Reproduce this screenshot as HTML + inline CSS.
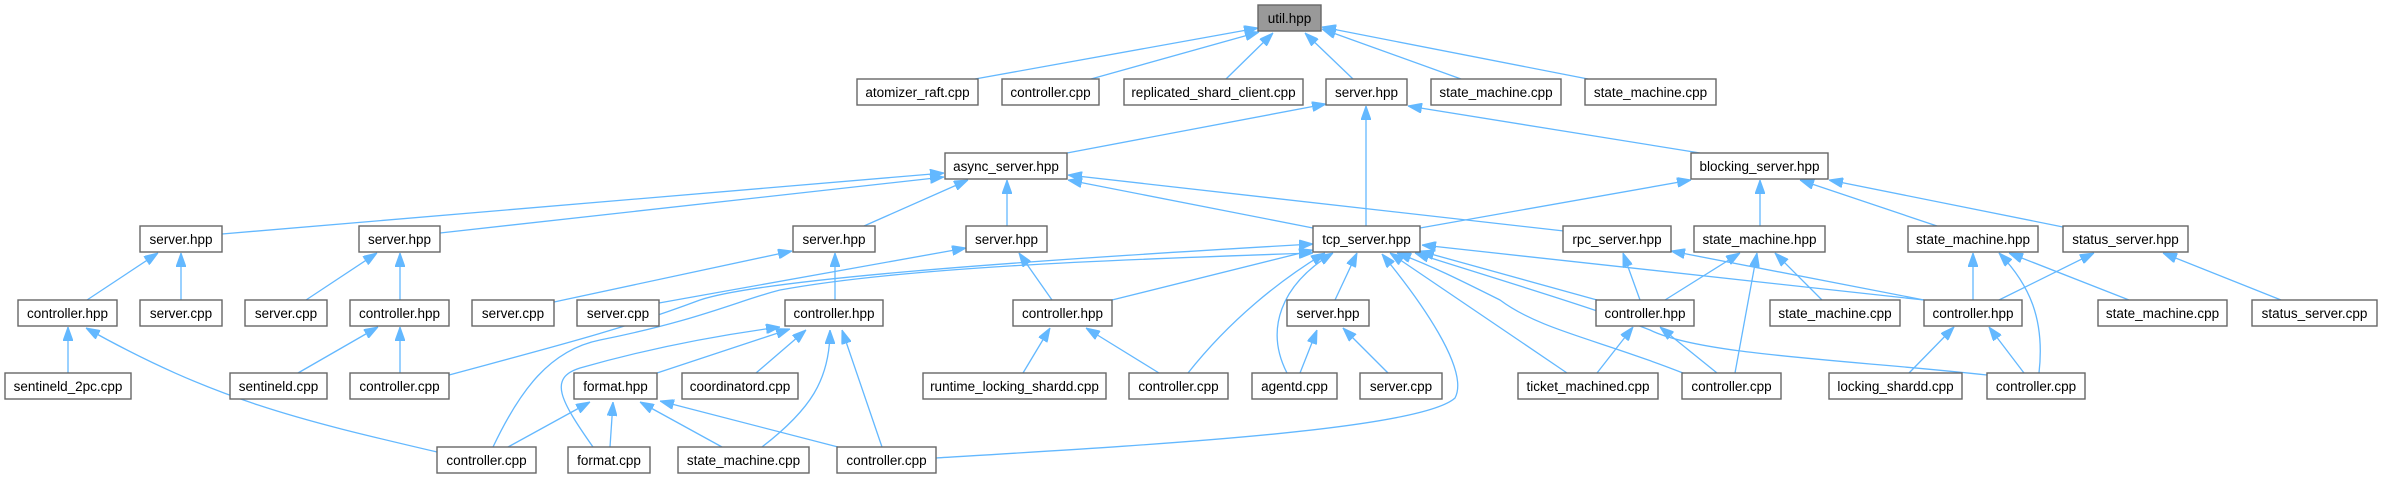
<!DOCTYPE html>
<html><head><meta charset="utf-8"><style>
html,body{margin:0;padding:0;background:#fff;}
svg{display:block;}
text{font-family:"Liberation Sans",Helvetica,Arial,sans-serif;font-size:13.5px;fill:#000;text-anchor:middle;}
rect{fill:#fff;stroke:#666;stroke-width:1.4;}
path{fill:none;stroke:#63b8ff;stroke-width:1.3;marker-end:url(#a);}
</style></head><body>
<svg width="2382" height="478" viewBox="0 0 2382 478" xmlns="http://www.w3.org/2000/svg">
<defs><marker id="a" markerUnits="userSpaceOnUse" markerWidth="14" markerHeight="10" refX="14" refY="5" orient="auto" viewBox="0 0 14 10"><path d="M0,0 L14,5 L0,10 z" style="fill:#63b8ff;stroke:#63b8ff;stroke-width:1;marker-end:none"/></marker></defs>

<!-- edges -->
<path d="M975,79 L1258,28"/>
<path d="M1091,79 L1259,32"/>
<path d="M1226,79 L1273,33"/>
<path d="M1353,79 L1305,33"/>
<path d="M1461,79 L1322,29"/>
<path d="M1588,79 L1322,27"/>

<path d="M1067,153 L1326,104"/>
<path d="M1366,226 L1366,106"/>
<path d="M1700,153 L1408,106"/>

<path d="M222,234 L944,173"/>
<path d="M440,233 L944,177"/>
<path d="M864,226 L968,180"/>
<path d="M1007,226 L1007,180"/>
<path d="M1313,228 L1068,180"/>
<path d="M1564,231 L1068,175"/>

<path d="M1420,228 L1691,180"/>
<path d="M1760,226 L1760,180"/>
<path d="M1937,226 L1800,180"/>
<path d="M2063,227 L1829,180"/>

<path d="M87,300 L158,253"/>
<path d="M181,300 L181,253"/>
<path d="M306,300 L377,253"/>
<path d="M400,300 L400,253"/>
<path d="M554,302 L792,251"/>
<path d="M835,300 L835,253"/>
<path d="M659,303 L966,248"/>
<path d="M1052,300 L1019,253"/>

<path d="M68,373 L68,327"/>
<path d="M437,452 C300,420 214,400 86,328"/>
<path d="M298,373 L378,327"/>
<path d="M400,373 L400,327"/>

<path d="M449,375 C560,345 620,330 700,300 C760,280 1000,262 1313,244"/>
<path d="M493,447 C520,390 550,350 600,340 C700,320 740,300 780,290 C900,268 1100,260 1313,253"/>
<path d="M593,447 C560,400 548,378 580,368 C650,348 720,335 780,327"/>
<path d="M657,373 L790,329"/>
<path d="M756,373 L806,330"/>
<path d="M762,447 C810,410 830,380 830,330"/>
<path d="M882,447 L842,330"/>

<path d="M508,447 L590,402"/>
<path d="M610,447 L613,402"/>
<path d="M722,447 L640,402"/>
<path d="M838,447 L660,401"/>

<path d="M1112,300 L1313,250"/>
<path d="M1188,373 C1230,320 1280,280 1325,253"/>
<path d="M1287,373 C1265,330 1280,285 1333,253"/>
<path d="M1335,300 L1357,253"/>
<path d="M936,458 C1150,445 1420,430 1455,398 C1470,370 1420,300 1382,254"/>
<path d="M1567,373 L1390,253"/>
<path d="M1683,373 C1600,340 1540,330 1500,300 C1460,280 1430,265 1397,253"/>
<path d="M1987,375 C1850,360 1700,355 1650,330 C1600,310 1500,280 1415,253"/>
<path d="M1597,300 L1420,251"/>
<path d="M1924,300 L1422,245"/>

<path d="M1300,373 L1317,330"/>
<path d="M1388,373 L1343,328"/>
<path d="M1023,373 L1050,328"/>
<path d="M1159,373 L1086,328"/>

<path d="M1597,373 L1633,327"/>
<path d="M1717,373 L1660,327"/>
<path d="M1640,300 L1623,253"/>
<path d="M1924,300 L1671,251"/>
<path d="M1665,300 L1740,253"/>
<path d="M1735,373 L1757,253"/>
<path d="M1822,300 L1775,253"/>
<path d="M1973,300 L1973,253"/>
<path d="M2039,373 C2045,320 2030,285 1999,253"/>
<path d="M2129,300 L2009,253"/>
<path d="M1999,300 L2094,253"/>
<path d="M2281,300 L2163,253"/>
<path d="M1909,373 L1954,327"/>
<path d="M2024,373 L1989,327"/>

<!-- nodes -->
<rect x="1258" y="5" width="63" height="26" style="fill:#999"/><text x="1289.5" y="23">util.hpp</text>
<rect x="857" y="79" width="121" height="26"/><text x="917.5" y="97">atomizer_raft.cpp</text>
<rect x="1002" y="79" width="97" height="26"/><text x="1050.5" y="97">controller.cpp</text>
<rect x="1124" y="79" width="179" height="26"/><text x="1213.5" y="97">replicated_shard_client.cpp</text>
<rect x="1326" y="79" width="81" height="26"/><text x="1366.5" y="97">server.hpp</text>
<rect x="1431" y="79" width="130" height="26"/><text x="1496" y="97">state_machine.cpp</text>
<rect x="1585" y="79" width="131" height="26"/><text x="1650.5" y="97">state_machine.cpp</text>

<rect x="945" y="153" width="122" height="26"/><text x="1006" y="171">async_server.hpp</text>
<rect x="1691" y="153" width="137" height="26"/><text x="1759.5" y="171">blocking_server.hpp</text>

<rect x="140" y="226" width="82" height="26"/><text x="181" y="244">server.hpp</text>
<rect x="359" y="226" width="81" height="26"/><text x="399.5" y="244">server.hpp</text>
<rect x="793" y="226" width="82" height="26"/><text x="834" y="244">server.hpp</text>
<rect x="966" y="226" width="81" height="26"/><text x="1006.5" y="244">server.hpp</text>
<rect x="1313" y="226" width="107" height="26"/><text x="1366.5" y="244">tcp_server.hpp</text>
<rect x="1563" y="226" width="108" height="26"/><text x="1617" y="244">rpc_server.hpp</text>
<rect x="1694" y="226" width="131" height="26"/><text x="1759.5" y="244">state_machine.hpp</text>
<rect x="1908" y="226" width="130" height="26"/><text x="1973" y="244">state_machine.hpp</text>
<rect x="2063" y="226" width="125" height="26"/><text x="2125.5" y="244">status_server.hpp</text>

<rect x="18" y="300" width="99" height="26"/><text x="67.5" y="318">controller.hpp</text>
<rect x="140" y="300" width="82" height="26"/><text x="181" y="318">server.cpp</text>
<rect x="245" y="300" width="82" height="26"/><text x="286" y="318">server.cpp</text>
<rect x="350" y="300" width="99" height="26"/><text x="399.5" y="318">controller.hpp</text>
<rect x="472" y="300" width="82" height="26"/><text x="513" y="318">server.cpp</text>
<rect x="577" y="300" width="82" height="26"/><text x="618" y="318">server.cpp</text>
<rect x="785" y="300" width="98" height="26"/><text x="834" y="318">controller.hpp</text>
<rect x="1013" y="300" width="99" height="26"/><text x="1062.5" y="318">controller.hpp</text>
<rect x="1287" y="300" width="82" height="26"/><text x="1328" y="318">server.hpp</text>
<rect x="1596" y="300" width="98" height="26"/><text x="1645" y="318">controller.hpp</text>
<rect x="1770" y="300" width="130" height="26"/><text x="1835" y="318">state_machine.cpp</text>
<rect x="1924" y="300" width="98" height="26"/><text x="1973" y="318">controller.hpp</text>
<rect x="2098" y="300" width="129" height="26"/><text x="2162.5" y="318">state_machine.cpp</text>
<rect x="2252" y="300" width="125" height="26"/><text x="2314.5" y="318">status_server.cpp</text>

<rect x="5" y="373" width="126" height="26"/><text x="68" y="391">sentineld_2pc.cpp</text>
<rect x="230" y="373" width="97" height="26"/><text x="278.5" y="391">sentineld.cpp</text>
<rect x="350" y="373" width="99" height="26"/><text x="399.5" y="391">controller.cpp</text>
<rect x="574" y="373" width="83" height="26"/><text x="615.5" y="391">format.hpp</text>
<rect x="682" y="373" width="116" height="26"/><text x="740" y="391">coordinatord.cpp</text>
<rect x="923" y="373" width="183" height="26"/><text x="1014.5" y="391">runtime_locking_shardd.cpp</text>
<rect x="1129" y="373" width="99" height="26"/><text x="1178.5" y="391">controller.cpp</text>
<rect x="1252" y="373" width="85" height="26"/><text x="1294.5" y="391">agentd.cpp</text>
<rect x="1360" y="373" width="82" height="26"/><text x="1401" y="391">server.cpp</text>
<rect x="1518" y="373" width="140" height="26"/><text x="1588" y="391">ticket_machined.cpp</text>
<rect x="1682" y="373" width="99" height="26"/><text x="1731.5" y="391">controller.cpp</text>
<rect x="1829" y="373" width="133" height="26"/><text x="1895.5" y="391">locking_shardd.cpp</text>
<rect x="1987" y="373" width="98" height="26"/><text x="2036" y="391">controller.cpp</text>

<rect x="437" y="447" width="99" height="26"/><text x="486.5" y="465">controller.cpp</text>
<rect x="568" y="447" width="82" height="26"/><text x="609" y="465">format.cpp</text>
<rect x="678" y="447" width="131" height="26"/><text x="743.5" y="465">state_machine.cpp</text>
<rect x="837" y="447" width="99" height="26"/><text x="886.5" y="465">controller.cpp</text>
</svg>
</body></html>
